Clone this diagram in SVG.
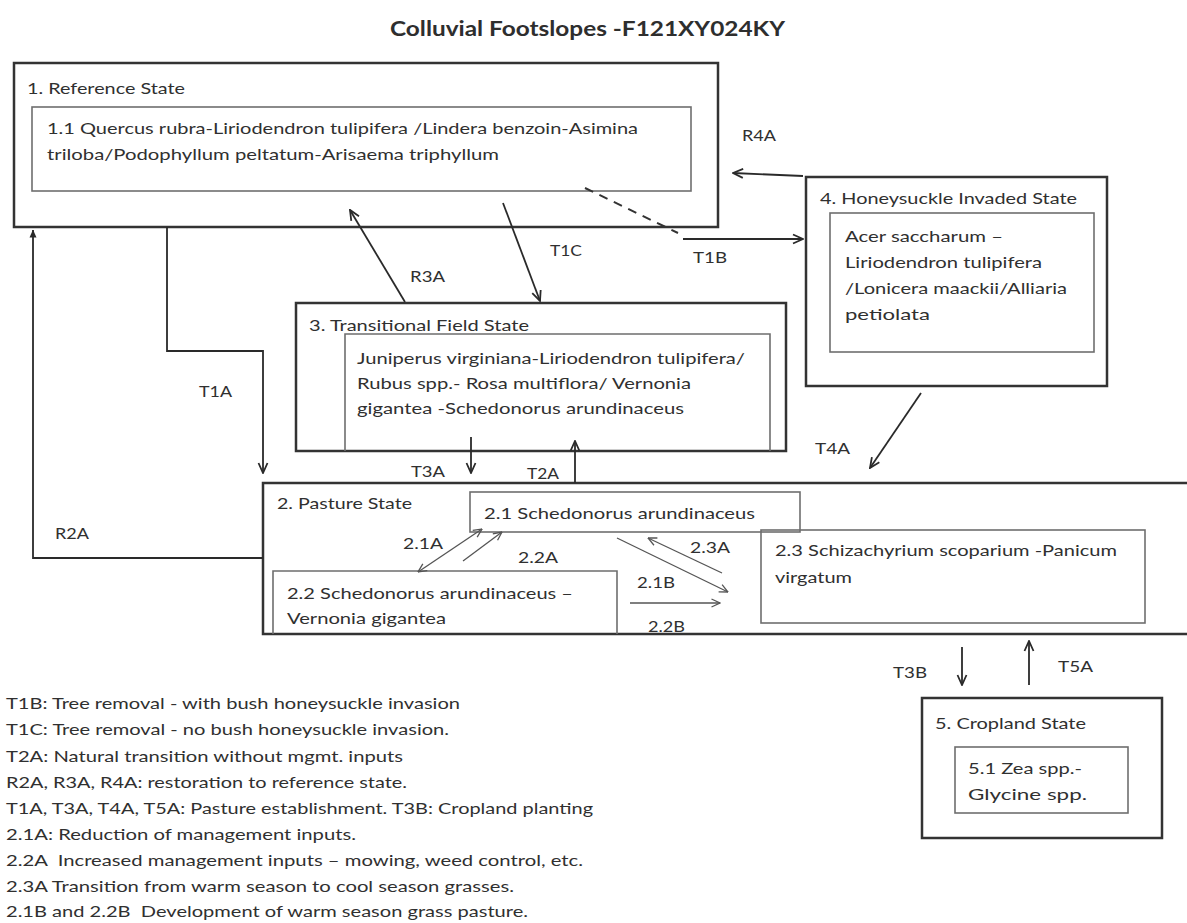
<svg xmlns="http://www.w3.org/2000/svg" width="1187" height="923" viewBox="0 0 1187 923">
<style>
  text { font-family: Lato, "Open Sans", "Liberation Sans", sans-serif; font-size: 16px; fill: #303030; }
  .title { font-size: 21px; font-weight: bold; fill: #2e2e2e; }
  .outer { fill: none; stroke: #333; stroke-width: 2.5; }
  .inner { fill: none; stroke: #6e6e6e; stroke-width: 1.6; }
  .conn { fill: none; stroke: #2a2a2a; stroke-width: 1.8; }
  .thin { fill: none; stroke: #555; stroke-width: 1.3; }
  .dash { fill: none; stroke: #333; stroke-width: 2; stroke-dasharray: 9 7; }
</style>
<defs>
  <marker id="ah" viewBox="0 0 12 12" refX="11" refY="6" markerWidth="12" markerHeight="12" markerUnits="userSpaceOnUse" orient="auto-start-reverse">
    <path d="M1,1.5 L11,6 L1,10.5" fill="none" stroke="#2a2a2a" stroke-width="1.8"/>
  </marker>
  <marker id="ahs" viewBox="0 0 10 10" refX="9.5" refY="5" markerWidth="10" markerHeight="10" markerUnits="userSpaceOnUse" orient="auto-start-reverse">
    <path d="M1,1 L9.5,5 L1,9" fill="none" stroke="#555" stroke-width="1.3"/>
  </marker>
  <marker id="ahf" viewBox="0 0 8 8" refX="7.5" refY="4" markerWidth="8" markerHeight="8" markerUnits="userSpaceOnUse" orient="auto">
    <path d="M0,0.5 L8,4 L0,7.5 Z" fill="#2a2a2a"/>
  </marker>
</defs>
<rect width="1187" height="923" fill="#ffffff"/>

<text class="title" x="390" y="36" textLength="395" lengthAdjust="spacingAndGlyphs">Colluvial Footslopes -F121XY024KY</text>

<g id="state1">
  <rect class="outer" x="14" y="63" width="704" height="164"/>
  <text x="27" y="94" textLength="158" lengthAdjust="spacingAndGlyphs">1. Reference State</text>
  <rect class="inner" x="32" y="107" width="659" height="84"/>
  <text x="47" y="134" textLength="591" lengthAdjust="spacingAndGlyphs">1.1 Quercus rubra-Liriodendron tulipifera /Lindera benzoin-Asimina</text>
  <text x="47" y="160" textLength="452" lengthAdjust="spacingAndGlyphs">triloba/Podophyllum peltatum-Arisaema triphyllum</text>
</g>

<g id="state4">
  <rect class="outer" x="806" y="177" width="301" height="209"/>
  <text x="820" y="204" textLength="257" lengthAdjust="spacingAndGlyphs">4. Honeysuckle Invaded State</text>
  <rect class="inner" x="830" y="213" width="264" height="139"/>
  <text x="845" y="242" textLength="158" lengthAdjust="spacingAndGlyphs">Acer saccharum –</text>
  <text x="845" y="268" textLength="197" lengthAdjust="spacingAndGlyphs">Liriodendron tulipifera</text>
  <text x="845" y="294" textLength="222" lengthAdjust="spacingAndGlyphs">/Lonicera maackii/Alliaria</text>
  <text x="845" y="320" textLength="85" lengthAdjust="spacingAndGlyphs">petiolata</text>
</g>

<g id="state3">
  <rect class="outer" x="296" y="303" width="490" height="148"/>
  <text x="309" y="331" textLength="220" lengthAdjust="spacingAndGlyphs">3. Transitional Field State</text>
  <path class="inner" d="M345,451 V334 H770 V451"/>
  <text x="357" y="364" textLength="388" lengthAdjust="spacingAndGlyphs">Juniperus virginiana-Liriodendron tulipifera/</text>
  <text x="357" y="389" textLength="334" lengthAdjust="spacingAndGlyphs">Rubus spp.- Rosa multiflora/ Vernonia</text>
  <text x="357" y="414" textLength="327" lengthAdjust="spacingAndGlyphs">gigantea -Schedonorus arundinaceus</text>
</g>

<g id="state2">
  <path class="outer" d="M1190,483 H263 V634 H1190"/>
  <text x="277" y="509" textLength="135" lengthAdjust="spacingAndGlyphs">2. Pasture State</text>
  <g id="phase21">
    <rect class="inner" x="470" y="492" width="330" height="40"/>
    <text x="484" y="519" textLength="271" lengthAdjust="spacingAndGlyphs">2.1 Schedonorus arundinaceus</text>
  </g>
  <g id="phase22">
    <path class="inner" d="M273,634 V571 H617 V634"/>
    <text x="287" y="599" textLength="286" lengthAdjust="spacingAndGlyphs">2.2 Schedonorus arundinaceus –</text>
    <text x="287" y="624" textLength="159" lengthAdjust="spacingAndGlyphs">Vernonia gigantea</text>
  </g>
  <g id="phase23">
    <rect class="inner" x="761" y="530" width="384" height="93"/>
    <text x="775" y="556" textLength="342" lengthAdjust="spacingAndGlyphs">2.3 Schizachyrium scoparium -Panicum</text>
    <text x="775" y="583" textLength="77" lengthAdjust="spacingAndGlyphs">virgatum</text>
  </g>
</g>

<g id="state5">
  <rect class="outer" x="922" y="698" width="240" height="140"/>
  <text x="935" y="729" textLength="151" lengthAdjust="spacingAndGlyphs">5. Cropland State</text>
  <rect class="inner" x="955" y="747" width="173" height="66"/>
  <text x="968" y="774" textLength="114" lengthAdjust="spacingAndGlyphs">5.1 Zea spp.-</text>
  <text x="968" y="800" textLength="119" lengthAdjust="spacingAndGlyphs">Glycine spp.</text>
</g>

<g id="connectors">
  <path class="conn" d="M167,227 V351 H263 V473" marker-end="url(#ah)"/>
  <path class="conn" d="M263,558 H33 V230" marker-end="url(#ahf)"/>
  <path class="conn" d="M405,302 L350,210" marker-end="url(#ah)"/>
  <path class="conn" d="M503,203 L540,301" marker-end="url(#ah)"/>
  <path class="dash" d="M585,188 L678,233"/>
  <path class="conn" d="M683,239 H803" marker-end="url(#ah)"/>
  <path class="conn" d="M803,176 L733,173" marker-end="url(#ah)"/>
  <path class="conn" d="M921,393 L870,468" marker-end="url(#ah)"/>
  <path class="conn" d="M471,437 V473" marker-end="url(#ah)"/>
  <path class="conn" d="M575,483 V441" marker-end="url(#ah)"/>
  <path class="conn" d="M962,647 V685" marker-end="url(#ah)"/>
  <path class="conn" d="M1029,685 V641" marker-end="url(#ah)"/>
  <path class="thin" d="M482,529 L418,572" marker-start="url(#ahs)" marker-end="url(#ahs)"/>
  <path class="thin" d="M463,561 L502,532" marker-end="url(#ahs)"/>
  <path class="thin" d="M617,538 L728,592" marker-end="url(#ahs)"/>
  <path class="thin" d="M722,573 L648,538" marker-end="url(#ahs)"/>
  <path class="thin" d="M630,603 H720" marker-end="url(#ahs)"/>

  <text x="742" y="141" textLength="34" lengthAdjust="spacingAndGlyphs">R4A</text>
  <text x="693" y="263" textLength="34" lengthAdjust="spacingAndGlyphs">T1B</text>
  <text x="550" y="256" textLength="32" lengthAdjust="spacingAndGlyphs">T1C</text>
  <text x="410" y="282" textLength="35" lengthAdjust="spacingAndGlyphs">R3A</text>
  <text x="199" y="397" textLength="33" lengthAdjust="spacingAndGlyphs">T1A</text>
  <text x="55" y="539" textLength="34" lengthAdjust="spacingAndGlyphs">R2A</text>
  <text x="411" y="477" textLength="34" lengthAdjust="spacingAndGlyphs">T3A</text>
  <text x="527" y="479" textLength="32" lengthAdjust="spacingAndGlyphs">T2A</text>
  <text x="815" y="454" textLength="35" lengthAdjust="spacingAndGlyphs">T4A</text>
  <text x="893" y="678" textLength="34" lengthAdjust="spacingAndGlyphs">T3B</text>
  <text x="1058" y="672" textLength="35" lengthAdjust="spacingAndGlyphs">T5A</text>
  <text x="403" y="549" textLength="40" lengthAdjust="spacingAndGlyphs">2.1A</text>
  <text x="518" y="563" textLength="40" lengthAdjust="spacingAndGlyphs">2.2A</text>
  <text x="690" y="553" textLength="40" lengthAdjust="spacingAndGlyphs">2.3A</text>
  <text x="637" y="588" textLength="38" lengthAdjust="spacingAndGlyphs">2.1B</text>
  <text x="648" y="632" textLength="37" lengthAdjust="spacingAndGlyphs">2.2B</text>
</g>

<g id="legend">
  <text x="6" y="709" textLength="454" lengthAdjust="spacingAndGlyphs">T1B: Tree removal - with bush honeysuckle invasion</text>
  <text x="6" y="735" textLength="443" lengthAdjust="spacingAndGlyphs">T1C: Tree removal - no bush honeysuckle invasion.</text>
  <text x="6" y="762" textLength="397" lengthAdjust="spacingAndGlyphs">T2A: Natural transition without mgmt. inputs</text>
  <text x="6" y="788" textLength="401" lengthAdjust="spacingAndGlyphs">R2A, R3A, R4A: restoration to reference state.</text>
  <text x="6" y="814" textLength="587" lengthAdjust="spacingAndGlyphs">T1A, T3A, T4A, T5A: Pasture establishment. T3B: Cropland planting</text>
  <text x="6" y="840" textLength="350" lengthAdjust="spacingAndGlyphs">2.1A: Reduction of management inputs.</text>
  <text x="6" y="866" textLength="577" lengthAdjust="spacingAndGlyphs" xml:space="preserve">2.2A  Increased management inputs – mowing, weed control, etc.</text>
  <text x="6" y="892" textLength="508" lengthAdjust="spacingAndGlyphs">2.3A Transition from warm season to cool season grasses.</text>
  <text x="6" y="917" textLength="522" lengthAdjust="spacingAndGlyphs" xml:space="preserve">2.1B and 2.2B  Development of warm season grass pasture.</text>
</g>
</svg>
